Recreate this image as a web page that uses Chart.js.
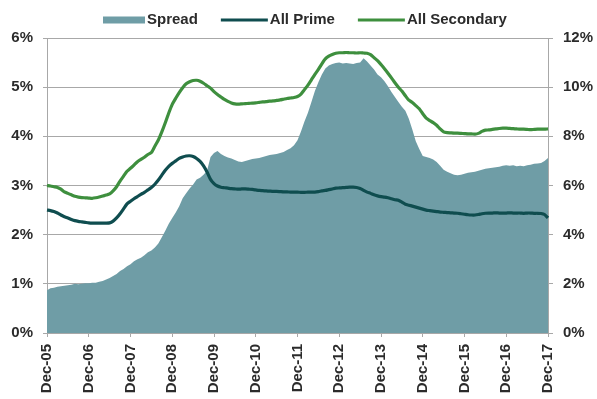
<!DOCTYPE html>
<html>
<head>
<meta charset="utf-8">
<script src="https://cdn.jsdelivr.net/npm/chart.js@4.4.1/dist/chart.umd.min.js"></script>
<style>
  html, body { margin: 0; padding: 0; background: #ffffff; }
  #wrap { width: 597px; height: 399px; position: relative; }
</style>
</head>
<body>
<div id="wrap"><canvas id="c" width="597" height="399"></canvas></div>
<script>
// Monthly series, December 2005 to December 2017
const monthNames = ['Dec','Jan','Feb','Mar','Apr','May','Jun','Jul','Aug','Sep','Oct','Nov'];
const startYear = 2005;
const monthCount = 145;

// Spread between secondary and prime yields (left axis, %)
const spread = [
  0.87, 0.91, 0.92, 0.94, 0.95, 0.96, 0.97, 0.98, 1.00, 0.99, 1.00, 1.01,
  1.01, 1.02, 1.02, 1.04, 1.06, 1.09, 1.12, 1.16, 1.20, 1.26, 1.30, 1.36,
  1.40, 1.46, 1.50, 1.53, 1.58, 1.64, 1.68, 1.74, 1.82, 1.95, 2.08, 2.22,
  2.34, 2.45, 2.58, 2.74, 2.84, 2.94, 3.02, 3.12, 3.16, 3.22, 3.30, 3.58,
  3.66, 3.70, 3.64, 3.60, 3.57, 3.55, 3.52, 3.49, 3.48, 3.50, 3.52, 3.54,
  3.55, 3.56, 3.58, 3.60, 3.62, 3.63, 3.64, 3.66, 3.68, 3.72, 3.76, 3.82,
  3.92, 4.10, 4.30, 4.48, 4.70, 4.92, 5.10, 5.26, 5.38, 5.44, 5.47, 5.49,
  5.50, 5.48, 5.49, 5.48, 5.47, 5.49, 5.50, 5.59, 5.52, 5.44, 5.36, 5.26,
  5.20, 5.12, 5.02, 4.90, 4.80, 4.70, 4.60, 4.52, 4.36, 4.14, 3.90, 3.74,
  3.60, 3.58, 3.56, 3.53, 3.48, 3.40, 3.32, 3.28, 3.25, 3.22, 3.21, 3.22,
  3.24, 3.26, 3.27, 3.28, 3.30, 3.32, 3.34, 3.35, 3.36, 3.37, 3.38, 3.40,
  3.41, 3.40, 3.41, 3.39, 3.40, 3.39, 3.41, 3.42, 3.44, 3.45, 3.46, 3.50, 3.56
];

// All Prime yield (right axis, %)
const allPrime = [
  5.00, 4.98, 4.94, 4.88, 4.80, 4.73, 4.68, 4.62, 4.57, 4.54, 4.52, 4.50,
  4.48, 4.47, 4.47, 4.47, 4.47, 4.47, 4.48, 4.55, 4.68, 4.85, 5.05, 5.25,
  5.36, 5.46, 5.55, 5.64, 5.72, 5.82, 5.92, 6.05, 6.22, 6.42, 6.62, 6.78,
  6.90, 7.00, 7.10, 7.16, 7.20, 7.21, 7.18, 7.10, 6.98, 6.80, 6.55, 6.25,
  6.08, 5.98, 5.93, 5.91, 5.89, 5.87, 5.86, 5.85, 5.86, 5.86, 5.85, 5.84,
  5.82, 5.80, 5.79, 5.78, 5.77, 5.76, 5.76, 5.75, 5.74, 5.74, 5.73, 5.73,
  5.73, 5.72, 5.72, 5.73, 5.73, 5.73, 5.75, 5.78, 5.80, 5.83, 5.86, 5.89,
  5.90, 5.91, 5.92, 5.93, 5.93, 5.92, 5.88, 5.80, 5.73, 5.68, 5.62, 5.58,
  5.55, 5.53, 5.50, 5.46, 5.42, 5.40, 5.32, 5.24, 5.20, 5.16, 5.12, 5.08,
  5.04, 5.00, 4.98, 4.96, 4.94, 4.92, 4.91, 4.90, 4.89, 4.88, 4.87, 4.85,
  4.83, 4.81, 4.80, 4.80, 4.82, 4.85, 4.87, 4.88, 4.88, 4.89, 4.88, 4.88,
  4.88, 4.89, 4.88, 4.88, 4.88, 4.87, 4.88, 4.88, 4.87, 4.87, 4.86, 4.82, 4.68
];

// All Secondary yield (right axis, %)
const allSecondary = [
  6.00, 5.98, 5.95, 5.92, 5.85, 5.74, 5.68, 5.62, 5.56, 5.53, 5.51, 5.50,
  5.49, 5.48, 5.50, 5.53, 5.57, 5.61, 5.66, 5.78, 5.95, 6.18, 6.38, 6.58,
  6.70, 6.83, 6.97, 7.06, 7.15, 7.26, 7.34, 7.60, 7.85, 8.18, 8.55, 8.95,
  9.30, 9.55, 9.78, 9.98, 10.14, 10.22, 10.27, 10.28, 10.24, 10.16, 10.06, 9.96,
  9.82, 9.70, 9.60, 9.50, 9.42, 9.36, 9.32, 9.31, 9.32, 9.33, 9.34, 9.35,
  9.36, 9.38, 9.40, 9.41, 9.43, 9.44, 9.46, 9.48, 9.51, 9.54, 9.56, 9.58,
  9.62, 9.72, 9.90, 10.08, 10.30, 10.52, 10.72, 10.95, 11.15, 11.26, 11.33, 11.38,
  11.40, 11.40, 11.41, 11.40, 11.40, 11.39, 11.40, 11.39, 11.38, 11.32, 11.20, 11.08,
  10.92, 10.75, 10.57, 10.38, 10.18, 10.00, 9.84, 9.65, 9.47, 9.38, 9.25, 9.12,
  8.92, 8.74, 8.64, 8.56, 8.45, 8.30, 8.18, 8.15, 8.14, 8.13, 8.13, 8.12,
  8.11, 8.10, 8.10, 8.09, 8.12, 8.20, 8.25, 8.26, 8.28, 8.30, 8.32, 8.33,
  8.33, 8.32, 8.31, 8.30, 8.29, 8.29, 8.28, 8.27, 8.28, 8.29, 8.29, 8.29, 8.30
];

const seriesNames = ['Spread', 'All Prime', 'All Secondary'];

// Month labels: "Dec-05", "Jan-06", ...
const labels = [];
for (let i = 0; i < monthCount; i++) {
  const yr = startYear + Math.ceil(i / 12);
  labels.push(monthNames[i % 12] + '-' + String(yr).slice(2));
}

const FONT = "'Liberation Sans', Arial, sans-serif";
const TEXT = '#2b2b2b';
const GRID = '#a8a8a8';
const COL_SPREAD = '#6f9da6';
const COL_PRIME = '#0f4d4f';
const COL_SECONDARY = '#3e8f3e';

// Legend drawn above the plot: a filled swatch for the area, stroked swatches for lines
const topLegend = {
  id: 'topLegend',
  afterDraw(chart) {
    const ctx = chart.ctx;
    const items = [
      { text: seriesNames[0], color: COL_SPREAD, kind: 'box', sw: 42 },
      { text: seriesNames[1], color: COL_PRIME, kind: 'line', sw: 47 },
      { text: seriesNames[2], color: COL_SECONDARY, kind: 'line', sw: 47 }
    ];
    const gap = 2, itemGap = 23, y = 20;
    ctx.save();
    ctx.font = 'bold 15px ' + FONT;
    ctx.textBaseline = 'middle';
    let x = chart.chartArea.left + 56;
    items.forEach(it => {
      if (it.kind === 'box') {
        ctx.fillStyle = it.color;
        ctx.fillRect(x, y - 3.5, it.sw, 7);
      } else {
        ctx.strokeStyle = it.color;
        ctx.lineWidth = 3;
        ctx.beginPath();
        ctx.moveTo(x, y);
        ctx.lineTo(x + it.sw, y);
        ctx.stroke();
      }
      x += it.sw + gap;
      ctx.fillStyle = TEXT;
      ctx.textAlign = 'left';
      ctx.fillText(it.text, x, y);
      x += ctx.measureText(it.text).width + itemGap;
    });
    ctx.restore();
  }
};

new Chart(document.getElementById('c'), {
  type: 'line',
  data: {
    labels: labels,
    datasets: [
      {
        label: seriesNames[0],
        data: spread,
        yAxisID: 'yLeft',
        fill: 'origin',
        backgroundColor: COL_SPREAD,
        borderWidth: 0,
        pointRadius: 0,
        order: 3
      },
      {
        label: seriesNames[1],
        data: allPrime,
        yAxisID: 'yRight',
        fill: false,
        borderColor: COL_PRIME,
        borderWidth: 3.2,
        pointRadius: 0,
        tension: 0.2,
        order: 1
      },
      {
        label: seriesNames[2],
        data: allSecondary,
        yAxisID: 'yRight',
        fill: false,
        borderColor: COL_SECONDARY,
        borderWidth: 3.2,
        pointRadius: 0,
        tension: 0.2,
        order: 2
      }
    ]
  },
  options: {
    responsive: false,
    animation: false,
    devicePixelRatio: 1,
    layout: { padding: { top: 38, left: 0, right: 0, bottom: 0 } },
    plugins: {
      legend: { display: false },
      tooltip: { enabled: false }
    },
    scales: {
      x: {
        type: 'category',
        offset: false,
        afterBuildTicks(scale) {
          scale.ticks = scale.ticks.filter(t => t.value % 12 === 0);
        },
        afterFit(scale) { scale.height = 66; },
        grid: {
          drawOnChartArea: false,
          drawTicks: true,
          tickLength: 4,
          color: GRID
        },
        border: { display: true, color: GRID, width: 1 },
        ticks: {
          autoSkip: false,
          minRotation: 90,
          maxRotation: 90,
          padding: 7,
          color: TEXT,
          font: { family: FONT, size: 15, weight: 'bold' },
          callback(value) { return labels[value]; }
        }
      },
      yLeft: {
        position: 'left',
        min: 0,
        max: 6,
        afterFit(scale) { scale.width = 47; },
        grid: {
          color: GRID,
          tickLength: 4,
          drawTicks: true
        },
        border: { display: true, color: GRID, width: 1 },
        ticks: {
          stepSize: 1,
          padding: 10,
          color: TEXT,
          font: { family: FONT, size: 15, weight: 'bold' },
          callback(v) { return v + '%'; }
        }
      },
      yRight: {
        position: 'right',
        min: 0,
        max: 12,
        afterFit(scale) { scale.width = 49; },
        grid: {
          drawOnChartArea: false,
          color: GRID,
          tickLength: 5,
          drawTicks: true
        },
        border: { display: true, color: GRID, width: 1 },
        ticks: {
          stepSize: 2,
          padding: 10,
          color: TEXT,
          font: { family: FONT, size: 15, weight: 'bold' },
          callback(v) { return v + '%'; }
        }
      }
    }
  },
  plugins: [topLegend]
});
</script>
</body>
</html>
